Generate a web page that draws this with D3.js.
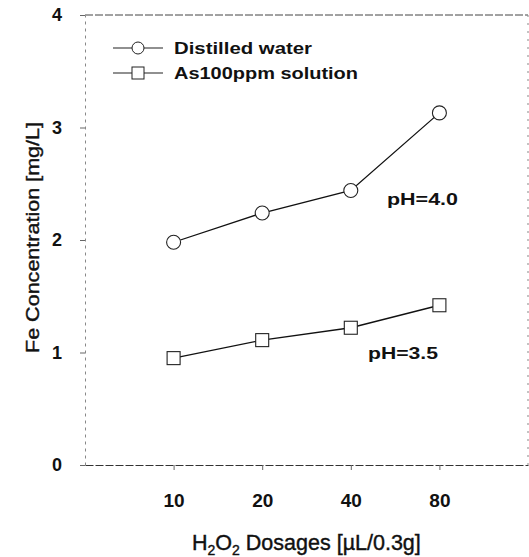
<!DOCTYPE html>
<html><head><meta charset="utf-8">
<script src="https://cdn.jsdelivr.net/npm/d3@7"></script>
<style>body{margin:0;background:#fff}svg{display:block}</style>
</head><body>
<svg id="c" width="529" height="557"></svg>
<script>
const categories = ["10","20","40","80"];
const distilled = [1.98, 2.24, 2.44, 3.13];
const as100 = [0.95, 1.11, 1.22, 1.42];
const yTicks = [0,1,2,3,4];
const seriesNames = ["Distilled water","As100ppm solution"];

const svg = d3.select("#c");
const L=85, R=528, T=15, B=465;
const x = d3.scaleLinear().domain([0,5]).range([L,R]);
const y = d3.scaleLinear().domain([0,4]).range([B,T]);
const font = "Liberation Sans, Arial, sans-serif";

// frame
const frame = svg.append("g").attr("fill","none").attr("stroke","#444").attr("stroke-width",1);
frame.append("line").attr("x1",L).attr("x2",R).attr("y1",T).attr("y2",T).attr("stroke-dasharray","8,2");
frame.append("line").attr("x1",R).attr("x2",R).attr("y1",T).attr("y2",B).attr("stroke-dasharray","2,6").attr("stroke","#888");

// axes
const xAxis = d3.axisBottom(x).tickValues([1,2,3,4]).tickFormat((d,i)=>categories[i]).tickSize(5).tickSizeOuter(0);
const gx = svg.append("g").attr("transform",`translate(0,${B})`).call(xAxis);
gx.select(".domain").attr("stroke","#333").attr("stroke-dasharray","8,2");
gx.selectAll(".tick line").attr("stroke","#666");
gx.selectAll("text").attr("font-family",font).attr("font-size",19).attr("font-weight","bold").attr("fill","#111")
  .attr("y",42).attr("dy",0);

const yAxis = d3.axisLeft(y).tickValues(yTicks).tickFormat(d3.format("d")).tickSize(5).tickSizeOuter(0);
const gy = svg.append("g").attr("transform",`translate(${L},0)`).call(yAxis);
gy.select(".domain").attr("stroke","#888").attr("stroke-dasharray","3,4");
gy.selectAll(".tick line").attr("stroke","#666");
gy.selectAll("text").attr("font-family",font).attr("font-size",18).attr("font-weight","bold").attr("fill","#111").attr("x",-23);

// lines
const line = d3.line().x((d,i)=>x(i+1)).y(d=>y(d));
[distilled, as100].forEach(s=>{
  svg.append("path").datum(s).attr("d",line).attr("fill","none").attr("stroke","#111").attr("stroke-width",1.3);
});
svg.selectAll("circle.m").data(distilled).join("circle").attr("class","m")
  .attr("cx",(d,i)=>x(i+1)).attr("cy",d=>y(d)).attr("r",7)
  .attr("fill","#fff").attr("stroke","#222").attr("stroke-width",1.1);
svg.selectAll("rect.m").data(as100).join("rect").attr("class","m")
  .attr("x",(d,i)=>x(i+1)-6.5).attr("y",d=>y(d)-6.5).attr("width",13).attr("height",13)
  .attr("fill","#fff").attr("stroke","#222").attr("stroke-width",1.1);

// legend
const lg = svg.append("g");
const legW = [138,184];
[48,73].forEach((ly,k)=>{
  lg.append("line").attr("x1",113).attr("x2",163).attr("y1",ly).attr("y2",ly).attr("stroke","#222").attr("stroke-width",1.1);
  if(k===0) lg.append("circle").attr("cx",138).attr("cy",ly).attr("r",6).attr("fill","#fff").attr("stroke","#222");
  else lg.append("rect").attr("x",132).attr("y",ly-6).attr("width",12).attr("height",12).attr("fill","#fff").attr("stroke","#222");
  lg.append("text").attr("x",174).attr("y",ly+6).text(seriesNames[k])
    .attr("font-family",font).attr("font-size",17).attr("font-weight","bold").attr("fill","#111")
    .attr("textLength",legW[k]).attr("lengthAdjust","spacingAndGlyphs");
});

// annotations
function ann(tx,ty,t,w){
  svg.append("text").attr("x",tx).attr("y",ty).text(t).attr("font-family",font).attr("font-size",17)
    .attr("font-weight","bold").attr("fill","#111").attr("textLength",w).attr("lengthAdjust","spacingAndGlyphs");
}
ann(387,205,"pH=4.0",71);
ann(368,359,"pH=3.5",70);

// axis titles
svg.append("text").attr("transform","translate(39,353) rotate(-90)")
  .attr("font-family",font).attr("font-size",18.5).attr("fill","#111").attr("stroke","#111").attr("stroke-width",0.4)
  .attr("textLength",231).attr("lengthAdjust","spacingAndGlyphs")
  .text("Fe Concentration [mg/L]");
const xt = svg.append("text").attr("x",192).attr("y",550)
  .attr("font-family",font).attr("font-size",21.5).attr("fill","#111").attr("stroke","#111").attr("stroke-width",0.4);
xt.append("tspan").text("H");
xt.append("tspan").text("2").attr("font-size",14).attr("dy",5);
xt.append("tspan").text("O").attr("dy",-5);
xt.append("tspan").text("2").attr("font-size",14).attr("dy",5);
xt.append("tspan").text(" Dosages [µL/0.3g]").attr("dy",-5);
</script>
</body></html>
